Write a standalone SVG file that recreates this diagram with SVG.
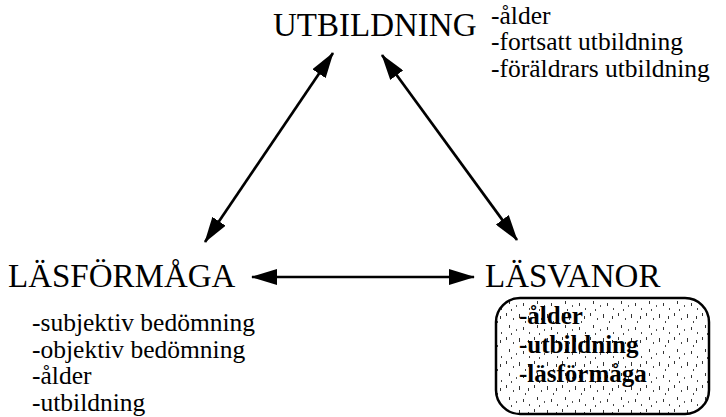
<svg xmlns="http://www.w3.org/2000/svg" width="726" height="417" viewBox="0 0 726 417">
<defs>
<style>
.t{font-family:"Liberation Serif","Times New Roman",serif;fill:#000}
.title{font-size:33px}
.item{font-size:25.5px}
.bold{font-size:25px;font-weight:bold}
.c{stroke:#000;stroke-width:2.7;fill:none}
</style>
<marker id="ah" viewBox="0 0 26 16" refX="25" refY="8" markerWidth="26" markerHeight="16" markerUnits="userSpaceOnUse" orient="auto-start-reverse">
<path d="M0,0 L26,8 L0,16 Z" fill="#000"/>
</marker>
<pattern id="speck" width="28" height="24" patternUnits="userSpaceOnUse">
<rect x="2" y="1" width="1" height="3" fill="#333"/>
<rect x="9" y="6" width="1" height="2" fill="#444"/>
<rect x="15" y="2" width="1" height="4" fill="#333"/>
<rect x="21" y="9" width="1" height="2" fill="#444"/>
<rect x="5" y="13" width="1" height="3" fill="#333"/>
<rect x="12" y="17" width="1" height="2" fill="#555"/>
<rect x="19" y="15" width="1" height="3" fill="#333"/>
<rect x="25" y="20" width="1" height="2" fill="#444"/>
<rect x="7" y="21" width="1" height="2" fill="#444"/>
<rect x="24" y="4" width="1" height="3" fill="#333"/>
</pattern>
</defs>
<g id="connectors">
<line class="c" x1="205" y1="242" x2="333" y2="53" marker-start="url(#ah)" marker-end="url(#ah)"/>
<line class="c" x1="382" y1="55" x2="517" y2="240" marker-start="url(#ah)" marker-end="url(#ah)"/>
<line class="c" x1="252" y1="277" x2="474" y2="277" marker-start="url(#ah)" marker-end="url(#ah)"/>
</g>
<g id="utbildning">
<text class="t title" x="273" y="36">UTBILDNING</text>
<text class="t item" x="491" y="23.5">-ålder</text>
<text class="t item" x="491" y="50">-fortsatt utbildning</text>
<text class="t item" x="491" y="76.5">-föräldrars utbildning</text>
</g>
<g id="lasformaga">
<text class="t title" x="8" y="287">LÄSFÖRMÅGA</text>
<text class="t item" x="32" y="331">-subjektiv bedömning</text>
<text class="t item" x="32" y="357.5">-objektiv bedömning</text>
<text class="t item" x="32" y="384">-ålder</text>
<text class="t item" x="32" y="410.5">-utbildning</text>
</g>
<g id="lasvanor">
<text class="t title" x="485" y="287">LÄSVANOR</text>
<rect x="496" y="298" width="213" height="116" rx="24" ry="24" fill="url(#speck)" stroke="#000" stroke-width="2.5"/>
<text class="t bold" x="519" y="324">-ålder</text>
<text class="t bold" x="519" y="353">-utbildning</text>
<text class="t bold" x="519" y="382">-läsförmåga</text>
</g>
</svg>
